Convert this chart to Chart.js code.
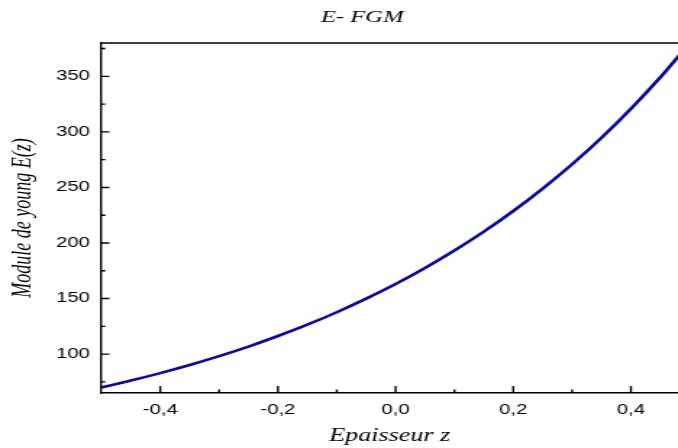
<!DOCTYPE html>
<html>
<head>
<meta charset="utf-8">
<script src="https://cdn.jsdelivr.net/npm/chart.js@4.4.1/dist/chart.umd.min.js"></script>
<style>
html, body { margin: 0; padding: 0; background: #fff; }
</style>
</head>
<body>
<!-- canvas is drawn narrow and widened by its inline size -->
<canvas id="fgmChart" width="468" height="448" style="display:block;width:678px;height:448px"></canvas>
<script>
// thickness coordinate z and Young's modulus E(z) across the plate
const zValues = [-0.5, -0.45, -0.4, -0.35, -0.3, -0.25, -0.2, -0.15, -0.1, -0.05, 0,
                 0.05, 0.1, 0.15, 0.2, 0.25, 0.3, 0.35, 0.4, 0.45, 0.5];
const eValues = [70, 76.2, 82.9, 90.2, 98.2, 106.8, 116.3, 126.5, 137.7, 149.9, 163.1,
                 177.5, 193.2, 210.2, 228.8, 249.0, 270.9, 294.8, 320.9, 349.2, 380];

const xTicks = [-0.4, -0.2, 0, 0.2, 0.4];
const xMinorTicks = [-0.3, -0.1, 0.1, 0.3];
const yTicks = [100, 150, 200, 250, 300, 350];
const yMinorTicks = [75, 125, 175, 225, 275, 325, 375];

const serifItalic = (size) => ({ family: '"Liberation Serif", "Times New Roman", serif', style: 'italic', size: size });

// top border, inward tick marks and the title
const framePlugin = {
    id: 'frame',
    afterDraw(chart) {
        const { ctx, chartArea: a, scales: { x, y } } = chart;
        ctx.save();
        ctx.strokeStyle = '#000';
        ctx.lineWidth = 1.4;
        ctx.beginPath();
        ctx.moveTo(a.left, a.top);
        ctx.lineTo(a.right, a.top);
        xTicks.forEach(v => {
            const px = x.getPixelForValue(v);
            ctx.moveTo(px, a.bottom);
            ctx.lineTo(px, a.bottom - 7);
        });
        xMinorTicks.forEach(v => {
            const px = x.getPixelForValue(v);
            ctx.moveTo(px, a.bottom);
            ctx.lineTo(px, a.bottom - 3.5);
        });
        yTicks.forEach(v => {
            const py = y.getPixelForValue(v);
            ctx.moveTo(a.left, py);
            ctx.lineTo(a.left + 5.5, py);
        });
        yMinorTicks.forEach(v => {
            const py = y.getPixelForValue(v);
            ctx.moveTo(a.left, py);
            ctx.lineTo(a.left + 2.8, py);
        });
        ctx.stroke();

        ctx.fillStyle = '#000';
        ctx.font = 'italic 17px "Liberation Serif", serif';
        ctx.textAlign = 'center';
        ctx.textBaseline = 'middle';
        ctx.fillText('E- FGM', 250, 18);
        ctx.restore();
    }
};

new Chart(document.getElementById('fgmChart'), {
    type: 'line',
    data: {
        datasets: [{
            data: zValues.map((z, i) => ({ x: z, y: eValues[i] })),
            borderColor: '#0505a8',
            borderWidth: 2.6,
            pointRadius: 0,
            fill: false,
            cubicInterpolationMode: 'monotone'
        }]
    },
    options: {
        responsive: false,
        maintainAspectRatio: false,
        devicePixelRatio: 1,
        animation: false,
        layout: { padding: { top: 43, right: 0, bottom: 0, left: 0 } },
        plugins: { legend: { display: false }, tooltip: { enabled: false } },
        scales: {
            x: {
                type: 'linear',
                min: -0.5,
                max: 0.48,
                afterBuildTicks: (scale) => { scale.ticks = xTicks.map(v => ({ value: v })); },
                afterFit: (scale) => { scale.height = 55; },
                grid: { display: false, drawTicks: false },
                border: { display: true, color: '#000', width: 1.4 },
                ticks: {
                    padding: 9,
                    color: '#000',
                    font: { family: '"Liberation Sans", Arial, sans-serif', size: 14 },
                    callback: (v) => v.toFixed(1).replace('.', ',')
                },
                title: {
                    display: true,
                    text: 'Epaisseur z',
                    color: '#000',
                    font: serifItalic(18),
                    padding: { top: 0, bottom: 1 }
                }
            },
            y: {
                min: 65,
                max: 380,
                afterBuildTicks: (scale) => { scale.ticks = yTicks.map(v => ({ value: v })); },
                afterFit: (scale) => { scale.width = 70; },
                grid: { display: false, drawTicks: false },
                border: { display: true, color: '#000', width: 1.4 },
                ticks: {
                    padding: 8,
                    color: '#000',
                    font: { family: '"Liberation Sans", Arial, sans-serif', size: 14 }
                },
                title: {
                    display: true,
                    text: 'Module de young E(z)',
                    color: '#000',
                    font: serifItalic(18),
                    padding: { top: 5, bottom: 0 }
                }
            }
        }
    },
    plugins: [framePlugin]
});
</script>
</body>
</html>
